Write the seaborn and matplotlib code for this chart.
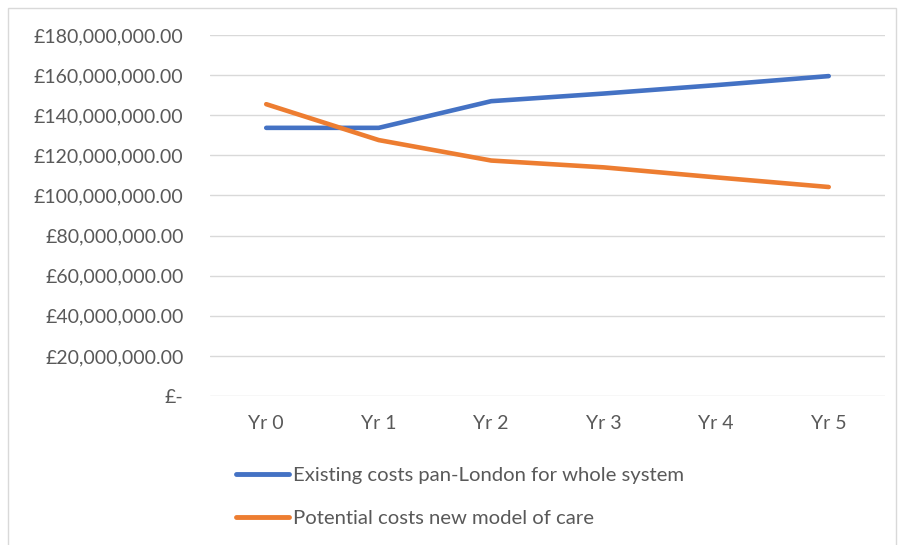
import pandas as pd
import matplotlib.pyplot as plt
import matplotlib.ticker as mticker
from matplotlib.patches import Rectangle
import seaborn as sns

years = ["Yr 0", "Yr 1", "Yr 2", "Yr 3", "Yr 4", "Yr 5"]
existing_costs = [133.7e6, 133.7e6, 147.0e6, 150.8e6, 155.0e6, 159.5e6]
new_model_costs = [145.5e6, 127.6e6, 117.4e6, 114.0e6, 109.0e6, 104.2e6]
series_names = ["Existing costs pan-London for whole system",
                "Potential costs new model of care"]
colors = ["#4472C4", "#ED7D31"]


def gbp_format(v, pos):
    """Excel-style accounting format: zero shows as £-."""
    if abs(v) < 1:
        return "£-"
    return "£{:,.2f}".format(v)


def draw_cost_chart(df):
    sns.set_style("white")
    plt.rcParams["font.family"] = ["Lato", "DejaVu Sans"]
    text_color = "#595959"
    fs = 14

    fig = plt.figure(figsize=(9, 5.45), dpi=100)
    ax = fig.add_axes([0.2333, 0.2734, 0.75, 0.6624])

    sns.lineplot(data=df, x="year", y="cost", hue="series", palette=colors,
                 sort=False, linewidth=3.3, ax=ax, legend=False,
                 solid_capstyle="round", solid_joinstyle="round")

    ax.set_xlim(-0.5, len(years) - 0.5)
    ax.set_ylim(0, 180e6)
    ax.yaxis.set_major_locator(mticker.MultipleLocator(20e6))
    ax.yaxis.set_major_formatter(mticker.FuncFormatter(gbp_format))
    ax.grid(axis="y", color="#D9D9D9", linewidth=1)
    ax.grid(axis="x", visible=False)
    ax.set_axisbelow(True)
    for s in ax.spines.values():
        s.set_visible(False)
    ax.tick_params(axis="both", length=0, labelsize=fs, colors=text_color)
    ax.tick_params(axis="y", pad=19)
    ax.tick_params(axis="x", pad=14)
    ax.set_xlabel("")
    ax.set_ylabel("")

    handles = [plt.Line2D([], [], color=c, linewidth=3.5, solid_capstyle="round")
               for c in colors]
    fig.legend(handles, series_names, loc="upper left",
               bbox_to_anchor=(236 / 900, 1 - 467 / 545), frameon=False,
               fontsize=14.6, labelcolor=text_color, handlelength=2.6,
               handletextpad=0.2, labelspacing=1.25, borderpad=0,
               borderaxespad=0)

    fig.patches.append(Rectangle((8 / 900, -0.05), 888 / 900, 1 - 8 / 545 + 0.05,
                                 transform=fig.transFigure, fill=False,
                                 edgecolor="#D9D9D9", linewidth=1))
    fig.savefig("out.png", dpi=100, facecolor="white")


df = pd.DataFrame({
    "year": years * 2,
    "cost": existing_costs + new_model_costs,
    "series": [series_names[0]] * len(years) + [series_names[1]] * len(years),
})
draw_cost_chart(df)
